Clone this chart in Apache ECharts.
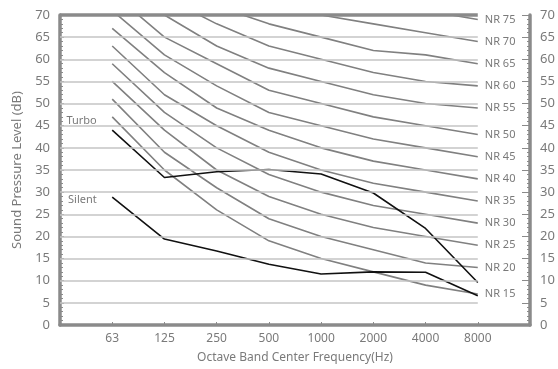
<!DOCTYPE html>
<html><head><meta charset="utf-8">
<script src="https://cdn.jsdelivr.net/npm/echarts@6/dist/echarts.min.js"></script>
<style>html,body{margin:0;padding:0;background:#fff}#c{width:558px;height:369px}</style>
</head><body><div id="c"></div>
<script>
const categories = ['', '63', '125', '250', '500', '1000', '2000', '4000', '8000', ''];
const yTicks = [0, 5, 10, 15, 20, 25, 30, 35, 40, 45, 50, 55, 60, 65, 70];
const nrNames = ['NR 15','NR 20','NR 25','NR 30','NR 35','NR 40','NR 45','NR 50','NR 55','NR 60','NR 65','NR 70','NR 75'];
const nr15 = [47, 35, 26, 19, 15, 12, 9, 7];
const nr20 = [51, 39, 31, 24, 20, 17, 14, 13];
const nr25 = [55, 44, 35, 29, 25, 22, 20, 18];
const nr30 = [59, 48, 40, 34, 30, 27, 25, 23];
const nr35 = [63, 52, 45, 39, 35, 32, 30, 28];
const nr40 = [67, 57, 49, 44, 40, 37, 35, 33];
const nr45 = [71, 61, 54, 48, 45, 42, 40, 38];
const nr50 = [75, 65, 59, 53, 50, 47, 45, 43];
const nr55 = [79, 70, 63, 58, 55, 52, 50, 49];
const nr60 = [83, 74, 68, 63, 60, 57, 55, 54];
const nr65 = [87, 78, 72, 68, 65, 62, 61, 59];
const nr70 = [91, 83, 77, 73, 70, 68, 66, 64];
const nr75 = [95, 87, 82, 78, 75, 73, 71, 69];
const turbo = [44, 33.3, 34.6, 35.1, 34.1, 29.8, 21.8, 9.6];
const silent = [28.9, 19.4, 16.7, 13.7, 11.5, 12.0, 11.9, 6.6];
const nrSets = [nr15, nr20, nr25, nr30, nr35, nr40, nr45, nr50, nr55, nr60, nr65, nr70, nr75];

const FONT = 'Noto Sans';
const TXT = '#7a7a7a';
const AX = '#8a8a8a';

function pad(arr){ return [null].concat(arr).concat([null]); }

const gridLines = yTicks.filter(v => v > 0).map(v => [
  {coord: [0, v], lineStyle: v === 70 ? {color: AX, width: 3.5, type: 'solid'} : {color: '#c4c4c4', width: 1.6, type: 'solid'}},
  {coord: [8, v]}
]);

const series = [];
series.push({
  type: 'line', data: pad([]).map(() => null), silent: true, symbol: 'none',
  markLine: {silent: true, symbol: 'none', label: {show: false}, data: gridLines, animation: false},
  z: 1
});
nrSets.forEach((arr, i) => {
  series.push({
    type: 'line', name: nrNames[i], data: pad(arr), symbol: 'none', clip: true,
    lineStyle: {color: '#808080', width: 1.6}, z: 2,
    endLabel: {show: true, formatter: nrNames[i], color: TXT, fontFamily: FONT, fontSize: 11, distance: 7}
  });
});
function blackSeries(name, arr, offset) {
  return {type: 'line', name: name, data: pad(arr), symbol: 'none', lineStyle: {color: '#111', width: 1.6}, z: 3,
    markPoint: {
      symbol: 'circle', symbolSize: 1, itemStyle: {color: 'rgba(0,0,0,0)'}, silent: true,
      data: [{coord: [1, arr[0]], value: name,
        label: {show: true, formatter: name, position: 'left', distance: 15, offset: offset, color: TXT, fontFamily: FONT, fontSize: 11}}]
    }};
}
series.push(blackSeries('Turbo', turbo, [0, -9]));
series.push(blackSeries('Silent', silent, [0, 3]));

const yBase = {
  type: 'value', min: 0, max: 70, interval: 5,
  axisLine: {show: true, lineStyle: {color: AX, width: 3.5}},
  axisTick: {show: true, inside: true, length: 4, lineStyle: {color: AX, width: 1}},
  minorTick: {show: true, splitNumber: 5, length: 3, lineStyle: {color: AX, width: 1}},
  axisLabel: {color: TXT, fontFamily: FONT, fontSize: 13, margin: 10},
  splitLine: {show: false}
};

const chart = echarts.init(document.getElementById('c'), null, {renderer: 'canvas'});
chart.setOption({
  animation: false,
  grid: {left: 60, right: 28, top: 15, bottom: 43, containLabel: false},
  xAxis: {
    type: 'category', data: categories, boundaryGap: false,
    axisLine: {lineStyle: {color: AX, width: 3.5}},
    axisTick: {show: true, inside: true, length: 3, lineStyle: {color: AX}},
    axisLabel: {color: TXT, fontFamily: FONT, fontSize: 12, margin: 8},
    name: 'Octave Band Center Frequency(Hz)', nameLocation: 'middle', nameGap: 27,
    nameTextStyle: {color: TXT, fontFamily: FONT, fontSize: 12}
  },
  yAxis: [
    Object.assign({}, yBase, {position: 'left', name: 'Sound Pressure Level (dB)', nameLocation: 'middle', nameGap: 35,
      nameTextStyle: {color: TXT, fontFamily: FONT, fontSize: 13}}),
    Object.assign({}, yBase, {position: 'right', axisTick: {show: true, inside: true, length: 8, lineStyle: {color: AX, width: 1}}})
  ],
  series: series
});
</script></body></html>
